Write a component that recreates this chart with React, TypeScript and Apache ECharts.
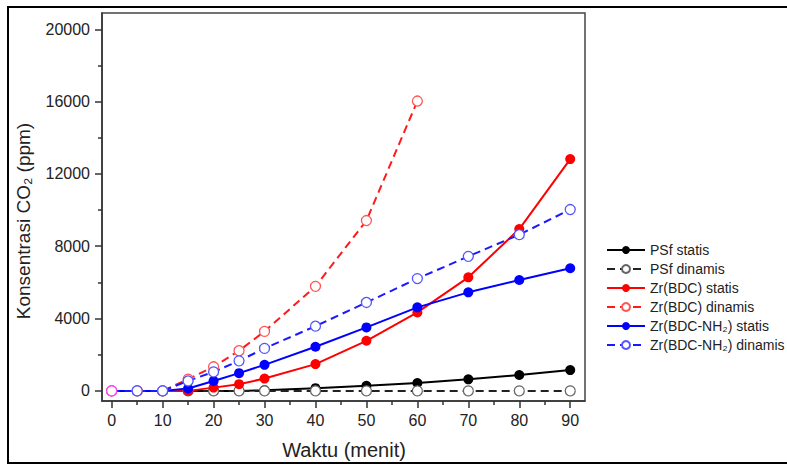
import React, { useEffect, useRef } from 'react';
import * as echarts from 'echarts';

const times = [0, 5, 10, 15, 20, 25, 30, 40, 50, 60, 70, 80, 90];
const psfStatis = [0, 0, 0, 0, 0, 0, 40, 150, 280, 430, 640, 880, 1150];
const psfDinamis = [0, 0, 0, 0, 0, 0, 0, 0, 0, 0, 0, 0, 0];
const bdcStatis = [0, 0, 0, 0, 180, 370, 680, 1480, 2770, 4340, 6280, 8950, 12820];
const bdcDinamis = [0, 0, 0, 650, 1330, 2220, 3290, 5780, 9420, 16030];
const nh2Statis = [0, 0, 0, 130, 550, 980, 1440, 2440, 3510, 4620, 5450, 6130, 6780];
const nh2Dinamis = [0, 0, 0, 550, 1050, 1660, 2350, 3580, 4890, 6210, 7440, 8640, 10030];

const seriesNames = [
  'PSf statis',
  'PSf dinamis',
  'Zr(BDC) statis',
  'Zr(BDC) dinamis',
  'Zr(BDC-NH₂) statis',
  'Zr(BDC-NH₂) dinamis',
];

const xMajor = [0, 10, 20, 30, 40, 50, 60, 70, 80, 90];
const xMinor = [5, 15, 25, 35, 45, 55, 65, 75, 85];
const yMajor = [0, 4000, 8000, 12000, 16000, 20000];
const yMinor = [2000, 6000, 10000, 14000, 18000];

const FONT = 'Arial, "Liberation Sans", Helvetica, sans-serif';
const X_MIN = -1.9;
const X_MAX = 92.9;
const Y_MIN = -560;
const Y_MAX = 20900;

function mk(name: string, ys: number[], solid: boolean, color: string, border: string, firstBorder?: string) {
  return {
    name,
    type: 'line',
    data: ys.map((v, i) =>
      i === 0 && firstBorder
        ? { value: [times[i], v], itemStyle: { borderColor: firstBorder } }
        : [times[i], v]
    ),
    symbol: 'circle',
    symbolSize: 10,
    xAxisIndex: 0,
    yAxisIndex: 0,
    lineStyle: { color, width: 2, type: solid ? 'solid' : [8, 5] },
    itemStyle: solid
      ? { color, borderColor: color, borderWidth: 0 }
      : { color: '#ffffff', borderColor: border, borderWidth: 1.3 },
    emphasis: { disabled: true },
  };
}

export default function App() {
  const ref = useRef<HTMLDivElement>(null);
  useEffect(() => {
    document.body.style.margin = '0';
    const chart = echarts.init(ref.current!, null, { renderer: 'svg' });
    const axisLineStyle = { color: '#333', width: 1.5 };
    const option: any = {
      animation: false,
      backgroundColor: '#ffffff',
      grid: {
        left: 102,
        right: 202,
        top: 13,
        bottom: 65,
        show: true,
        borderColor: '#444',
        borderWidth: 1.5,
        backgroundColor: 'transparent',
      },
      legend: {
        orient: 'vertical',
        left: 601,
        top: 237,
        itemWidth: 38,
        itemHeight: 10,
        itemGap: 3,
        data: seriesNames,
        textStyle: { fontSize: 14, color: '#222', fontFamily: FONT, lineHeight: 16 },
      },
      xAxis: [
        {
          type: 'value',
          min: X_MIN,
          max: X_MAX,
          position: 'bottom',
          splitLine: { show: false },
          axisLine: { show: true, onZero: false, lineStyle: axisLineStyle },
          axisTick: { show: true, inside: false, length: 7, customValues: xMajor, lineStyle: axisLineStyle },
          axisLabel: {
            customValues: xMajor,
            margin: 11,
            fontSize: 16,
            color: '#222',
            fontFamily: FONT,
            formatter: (v: number) => String(v),
          },
        },
        {
          type: 'value',
          min: X_MIN,
          max: X_MAX,
          position: 'bottom',
          splitLine: { show: false },
          axisLine: { show: false, onZero: false },
          axisTick: { show: true, inside: false, length: 4, customValues: xMinor, lineStyle: axisLineStyle },
          axisLabel: { show: false, customValues: xMinor },
        },
      ],
      yAxis: [
        {
          type: 'value',
          min: Y_MIN,
          max: Y_MAX,
          position: 'left',
          splitLine: { show: false },
          axisLine: { show: true, onZero: false, lineStyle: axisLineStyle },
          axisTick: { show: true, inside: false, length: 7, customValues: yMajor, lineStyle: axisLineStyle },
          axisLabel: {
            customValues: yMajor,
            margin: 12,
            fontSize: 16,
            color: '#222',
            fontFamily: FONT,
            formatter: (v: number) => String(v),
          },
        },
        {
          type: 'value',
          min: Y_MIN,
          max: Y_MAX,
          position: 'left',
          splitLine: { show: false },
          axisLine: { show: false, onZero: false },
          axisTick: { show: true, inside: false, length: 4, customValues: yMinor, lineStyle: axisLineStyle },
          axisLabel: { show: false, customValues: yMinor },
        },
      ],
      series: [
        mk(seriesNames[0], psfStatis, true, '#000000', '#000000'),
        mk(seriesNames[1], psfDinamis, false, '#222222', '#666666'),
        mk(seriesNames[2], bdcStatis, true, '#ff0000', '#ff0000'),
        mk(seriesNames[3], bdcDinamis, false, '#ff1a1a', '#ff5555'),
        mk(seriesNames[4], nh2Statis, true, '#0000ff', '#0000ff'),
        mk(seriesNames[5], nh2Dinamis, false, '#1a1aff', '#5555ff', '#ff44ff'),
      ],
      graphic: [
        {
          type: 'rect',
          shape: { x: 8, y: 7, width: 820, height: 456 },
          style: { fill: 'none', stroke: '#000', lineWidth: 2 },
          silent: true,
        },
        {
          type: 'text',
          x: 344,
          y: 450,
          style: {
            text: 'Waktu (menit)',
            fontSize: 20,
            fontFamily: FONT,
            fill: '#222',
            align: 'center',
            verticalAlign: 'middle',
            textAlign: 'center',
            textVerticalAlign: 'middle',
          },
        },
        {
          type: 'text',
          x: 23,
          y: 221,
          rotation: Math.PI / 2,
          style: {
            text: 'Konsentrasi CO₂ (ppm)',
            fontSize: 19,
            fontFamily: FONT,
            fill: '#222',
            align: 'center',
            verticalAlign: 'middle',
            textAlign: 'center',
            textVerticalAlign: 'middle',
          },
        },
      ],
    };
    chart.setOption(option);
    return () => chart.dispose();
  }, []);
  return <div ref={ref} style={{ width: 787, height: 466 }} />;
}
